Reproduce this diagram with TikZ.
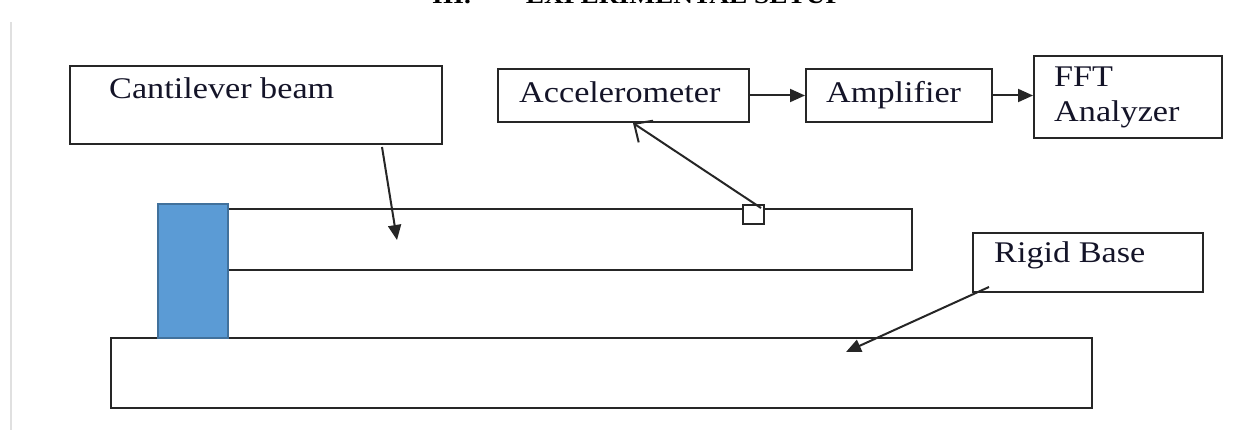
\documentclass[tikz,border=0pt]{standalone}
\usepackage{fontspec}
\setmainfont[FakeStretch=1.14]{Liberation Serif}
\usetikzlibrary{arrows.meta}
\definecolor{clampfill}{HTML}{5B9BD5}
\definecolor{clampdraw}{HTML}{41719C}
\definecolor{txtc}{HTML}{141428}
\tikzset{
  box/.style={draw=black!85, line width=2pt, inner sep=0pt, anchor=north west},
  lbl/.style={text=txtc, font=\fontsize{30}{35}\selectfont, inner sep=0pt, anchor=base west},
  conn/.style={draw=black!85, line width=2pt, -{Triangle[length=15pt,width=13pt]}},
  openarr/.style={draw=black!85, line width=2pt, -{Straight Barb[length=14pt,width=26pt,line width=2pt]}},
}
\begin{document}
\begin{tikzpicture}[x=1pt,y=-1pt]
\useasboundingbox (0,0) rectangle (1248,430);
\clip (0,0) rectangle (1248,430);
% header (cut off)
\node[text=black, font=\bfseries\fontsize{24}{28}\selectfont, inner sep=0pt, anchor=base west] (hdr) at (432,4) {III.\hspace{55pt}EXPERIMENTAL SETUP};
% left gray rule
\draw[black!12, line width=2.5pt] (11,22) -- (11,430);
% boxes
\node[box, minimum width=372pt, minimum height=78pt] (cb) at (69,65) {};
\node[lbl] (cbt) at (109,99) {Cantilever beam};
\node[box, minimum width=251pt, minimum height=53pt] (acc) at (497,68) {};
\node[lbl] (acct) at (519,103) {Accelerometer};
\node[box, minimum width=186pt, minimum height=53pt] (amp) at (805,68) {};
\node[lbl] (ampt) at (826,103) {Amplifier};
\node[box, minimum width=188pt, minimum height=82pt] (fft) at (1033,55) {};
\node[lbl] (fftt1) at (1054,87) {FFT};
\node[lbl] (fftt2) at (1054,122) {Analyzer};
\node[box, minimum width=230pt, minimum height=59pt] (rb) at (972,232) {};
\node[lbl] (rbt) at (994,263) {Rigid Base};
% base and beam
\node[box, minimum width=981pt, minimum height=70pt] (base) at (110,337) {};
\node[box, minimum width=684pt, minimum height=61pt] (beam) at (227,208) {};
\node[draw=clampdraw, fill=clampfill, line width=2pt, inner sep=0pt, anchor=north west, minimum width=70pt, minimum height=134pt] (clamp) at (157,203) {};
\node[box, fill=white, minimum width=21pt, minimum height=19pt] (sensor) at (742,204) {};
% connectors
\draw[conn] (acc.east) -- (amp.west);
\draw[conn] (amp.east) -- (amp.east -| fft.west);
\coordinate (cbs) at (382,147);
\coordinate (cbe) at (397,240);
\draw[conn] (cbs) -- (cbe);
\coordinate (accin) at (633,123);
\coordinate (sens) at (761,208);
\draw[openarr] (sens) -- (accin);
\coordinate (rbs) at (989,287);
\coordinate (rbe) at (846,352);
\draw[conn] (rbs) -- (rbe);
\end{tikzpicture}
\end{document}
